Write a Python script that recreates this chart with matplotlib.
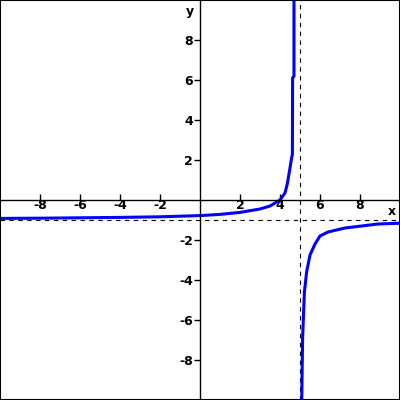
import matplotlib
matplotlib.use("Agg")
import matplotlib.pyplot as plt
from matplotlib.patches import Rectangle

# curve (two branches around x = 5)
left_x = [-10, -8, -6, -4, -2, 0, 1, 2, 3, 3.5, 4, 4.25, 4.37, 4.5, 4.58, 4.62, 4.63, 4.7, 4.7]
left_y = [-0.92, -0.91, -0.89, -0.87, -0.84, -0.78, -0.72, -0.62, -0.45, -0.3, 0.0, 0.35, 0.83, 1.6, 2.1, 2.3, 6.1, 6.2, 10.5]
right_x = [5.08, 5.13, 5.22, 5.33, 5.42, 5.5, 5.75, 6, 6.4, 7.25, 8.08, 8.9, 10]
right_y = [-10.5, -6.9, -4.6, -3.6, -3.15, -2.75, -2.2, -1.8, -1.6, -1.4, -1.3, -1.2, -1.16]

asym_x = 5
asym_y = -1
ticks = [-8, -6, -4, -2, 2, 4, 6, 8]

plt.rcParams['axes.unicode_minus'] = False

fig = plt.figure(figsize=(4, 4), dpi=100)
ax = fig.add_axes([0, 0, 1, 1])
ax.set_xlim(-10, 10)
ax.set_ylim(-10, 10)

ax.axhline(asym_y, color='black', lw=0.8, ls=(0, (4, 4)))
ax.axvline(asym_x, color='black', lw=0.8, ls=(0, (4, 4)))

ax.plot(left_x, left_y, color='#0000ff', lw=2.2)
ax.plot(right_x, right_y, color='#0000ff', lw=2.2)

for s in ['top', 'right']:
    ax.spines[s].set_visible(False)
ax.spines['left'].set_position('zero')
ax.spines['bottom'].set_position('zero')
ax.spines['left'].set_linewidth(1)
ax.spines['bottom'].set_linewidth(1)

ax.set_xticks(ticks)
ax.set_yticks(ticks)
ax.set_xticklabels([str(t) for t in ticks], fontsize=9, fontweight='bold')
ax.set_yticklabels([str(t) for t in ticks], fontsize=9, fontweight='bold')
ax.tick_params(axis='x', direction='in', length=4, width=1, pad=-1)
ax.tick_params(axis='y', direction='out', length=4, width=1, pad=1)

ax.text(9.6, -0.25, 'x', fontsize=9, fontweight='bold', ha='center', va='top')
ax.text(-0.3, 9.4, 'y', fontsize=9, fontweight='bold', ha='right', va='center')

fig.patches.append(Rectangle((0, 0), 1, 1, transform=fig.transFigure,
                             fill=False, edgecolor='black', lw=1.5))

fig.savefig('out.png', dpi=100)
